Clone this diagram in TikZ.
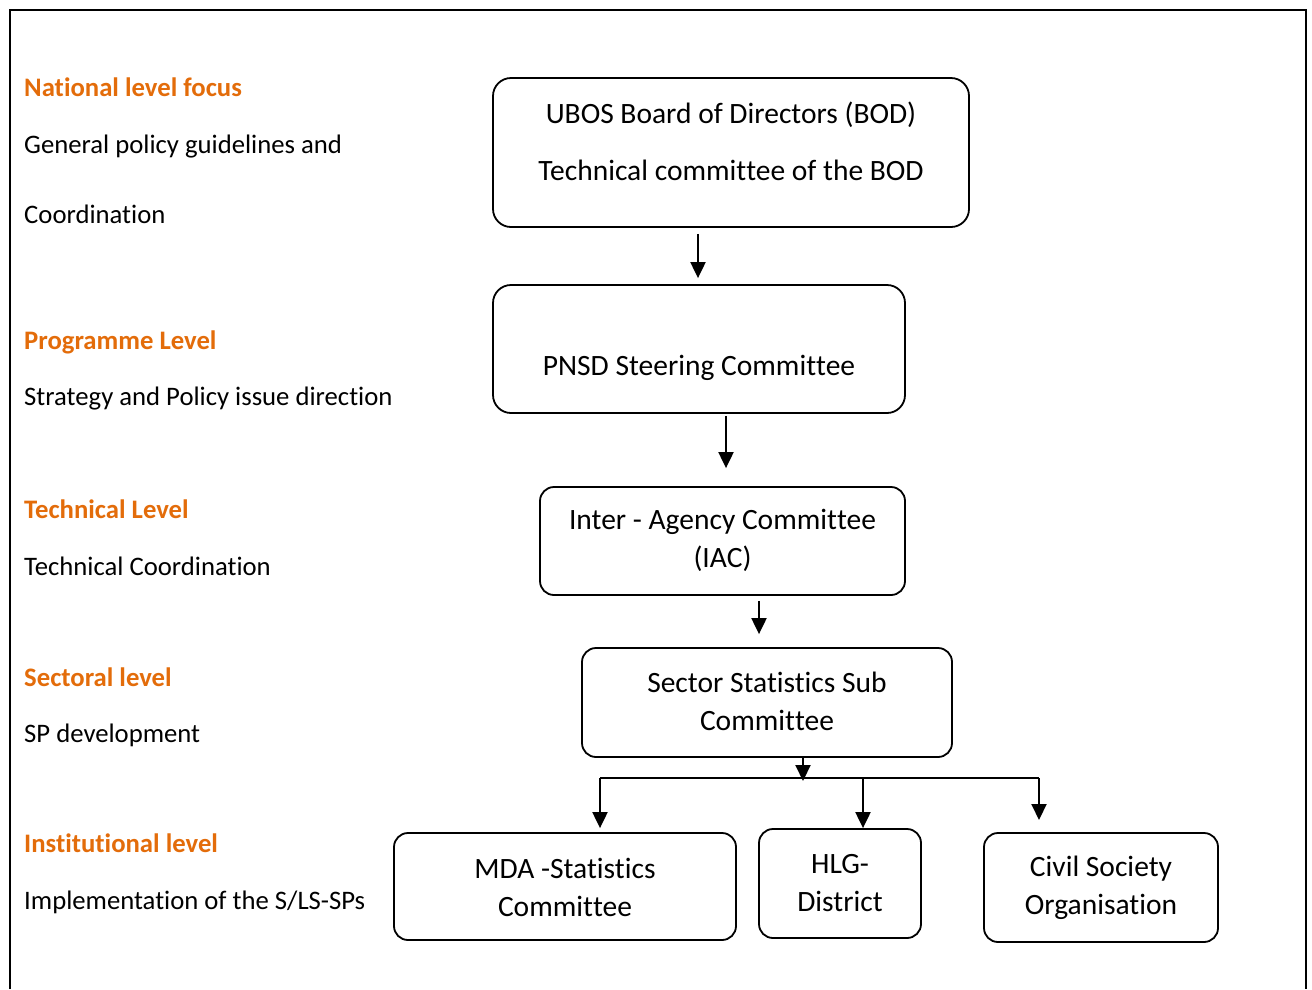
\documentclass[tikz,border=0pt]{standalone}
\usepackage{fontspec}
\setmainfont{Carlito}[Ligatures={NoCommon,NoContextual,NoRare}]
\usetikzlibrary{arrows.meta}
\definecolor{lvlorange}{HTML}{E36C0A}
\newXeTeXintercharclass\myTclass
\newXeTeXintercharclass\myIclass
\XeTeXcharclass`t=\myTclass
\XeTeXcharclass`i=\myIclass
\XeTeXinterchartoks\myTclass\myIclass={\kern0pt }
\XeTeXinterchartoks\myTclass\myTclass={\kern0pt }
\XeTeXinterchartokenstate=1
\begin{document}
\begin{tikzpicture}[x=1pt,y=-1pt,
  box/.style={draw,line width=1.8pt,rounded corners=18pt,inner sep=0pt},
  sbox/.style={draw,line width=1.8pt,rounded corners=14pt,inner sep=0pt},
  btxt/.style={font=\fontsize{29.5}{38}\selectfont,align=center},
  lvl/.style={anchor=base west,inner sep=0pt,font=\fontsize{26.7}{32}\selectfont\bfseries,text=lvlorange},
  desc/.style={anchor=base west,inner sep=0pt,font=\fontsize{26.7}{32}\selectfont},
  arr/.style={line width=2pt,-{Triangle[length=16pt,width=15pt]}},
  ln/.style={line width=2pt}]
\useasboundingbox (0,0) rectangle (1312,989);
\draw[line width=2pt] (10,989) -- (10,10) -- (1306,10) -- (1306,989);

% left labels
\node[lvl] (l1) at (24,96) {National level focus};
\node[desc] (d1a) at (24,153) {General policy guidelines and};
\node[desc] (d1b) at (24,223) {Coordination};
\node[lvl] (l2) at (24,349) {Programme Level};
\node[desc] (d2) at (24,405) {Strategy and Policy issue direction};
\node[lvl] (l3) at (24,518) {Technical Level};
\node[desc] (d3) at (24,575) {Technical Coordination};
\node[lvl] (l4) at (24,686) {Sectoral level};
\node[desc] (d4) at (24,742) {SP development};
\node[lvl] (l5) at (24,852) {Institutional level};
\node[desc] (d5) at (24,909) {Implementation of the S/LS-SPs};

% boxes
\node[box,minimum width=476pt,minimum height=149pt] (bod) at (731,152.5) {};
\node[btxt] (bodt1) at (731,115) {UBOS Board of Directors (BOD)};
\node[btxt] (bodt2) at (731,170) {Technical committee of the BOD};

\node[box,minimum width=412pt,minimum height=128pt] (pnsd) at (699,349) {};
\node[btxt] (pnsdt) at (699,368) {PNSD Steering Committee};

\node[sbox,minimum width=365pt,minimum height=108pt] (iac) at (722.5,541) {};
\node[btxt] (iact) at (722.5,540) {Inter - Agency Committee\\(IAC)};

\node[sbox,minimum width=370pt,minimum height=109pt] (ssc) at (767,702.5) {};
\node[btxt] (ssct) at (767,701.5) {Sector Statistics Sub\\Committee};

\node[sbox,minimum width=342pt,minimum height=107pt] (mda) at (565,886.5) {};
\node[btxt] (mdat) at (565,887) {MDA -Statistics\\Committee};

\node[sbox,minimum width=162pt,minimum height=109pt] (hlg) at (840,883.5) {};
\node[btxt] (hlgt) at (840,883.5) {HLG-\\District};

\node[sbox,minimum width=234pt,minimum height=109pt] (cso) at (1101,887.5) {};
\node[btxt] (csot) at (1101,888) {Civil Society\\Organisation};

% connectors
\coordinate (x1) at (698,0);
\coordinate (x2) at (726,0);
\coordinate (x3) at (759,0);
\coordinate (x4) at (803,0);
\coordinate (bar) at (0,781);
\coordinate (bl) at (600,778);
\coordinate (bm) at (863,778);
\coordinate (br) at (1039,778);
\coordinate (brend) at (1039,820);

\draw[arr,shorten <=6pt,shorten >=6pt] (bod.south -| x1) -- (pnsd.north -| x1);
\draw[arr,shorten <=2pt,shorten >=18pt] (pnsd.south -| x2) -- (iac.north -| x2);
\draw[arr,shorten <=5pt,shorten >=13pt] (iac.south -| x3) -- (ssc.north -| x3);
\draw[arr] (ssc.south -| x4) -- (bar -| x4);
\draw[ln] (bl) -- (br);
\draw[arr,shorten >=4pt] (bl) -- (mda.north -| bl);
\draw[arr] (bm) -- (hlg.north -| bm);
\draw[arr] (br) -- (brend);
\end{tikzpicture}
\end{document}
